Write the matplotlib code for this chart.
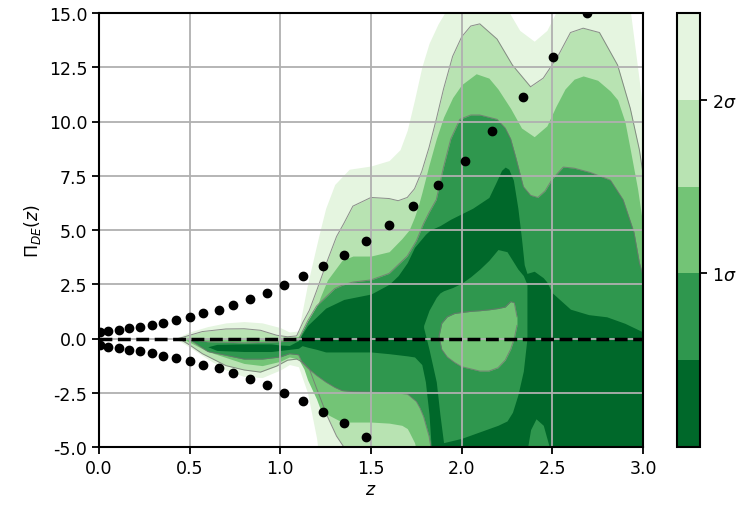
import numpy as np
import matplotlib
matplotlib.use("Agg")
import matplotlib.pyplot as plt
from matplotlib.colors import ListedColormap, BoundaryNorm
from matplotlib.cm import ScalarMappable
from matplotlib.ticker import FormatStrFormatter

# ---- sigma levels and their fill colours (darkest = innermost) ----
sigma_levels = [0.0, 0.5, 1.0, 1.5, 2.0, 2.5]
level_colors = ["#00682a", "#2f974e", "#73c476", "#b8e3b2", "#e5f5e0"]

# ---- Reconstructed reference points ----
z_upper_pts = [0.005, 0.05, 0.11, 0.165, 0.225, 0.29, 0.355, 0.425, 0.50, 0.575,
               0.66, 0.74, 0.83, 0.925, 1.02, 1.125, 1.235, 1.35, 1.47, 1.60,
               1.73, 1.87, 2.02, 2.17, 2.34, 2.505, 2.69]
y_upper_pts = [0.30, 0.35, 0.40, 0.48, 0.53, 0.62, 0.71, 0.85, 0.98, 1.17,
               1.33, 1.56, 1.82, 2.10, 2.46, 2.87, 3.33, 3.85, 4.50, 5.23,
               6.10, 7.08, 8.20, 9.57, 11.15, 12.97, 15.0]
z_lower_pts = [0.005, 0.05, 0.11, 0.165, 0.225, 0.29, 0.355, 0.425, 0.50, 0.575,
               0.66, 0.74, 0.83, 0.925, 1.02, 1.125, 1.235, 1.35, 1.47]
y_lower_pts = [-0.30, -0.38, -0.44, -0.52, -0.58, -0.67, -0.79, -0.90, -1.02, -1.20,
               -1.36, -1.60, -1.87, -2.14, -2.50, -2.90, -3.37, -3.90, -4.52]

# ---- contour band outlines: z knots, lower edge, upper edge ----
# region with sigma < 2.5
z_s25 = [0.42, 0.5, 0.6, 0.7, 0.8, 0.9, 1.0, 1.05, 1.1, 1.15, 1.2, 1.22, 1.25, 1.3,
         1.38, 1.5, 1.6, 1.66, 1.7, 1.74, 1.78, 1.82, 1.87, 1.92, 2.25, 2.32, 2.4,
         2.47, 2.53, 2.93, 2.97, 3.0]
lo_s25 = [0.0, -0.4, -0.95, -1.45, -1.75, -1.8, -1.45, -1.2, -1.3, -2.5, -4.6, -6, -6, -6,
          -6, -6, -6, -6, -6, -6, -6, -6, -6, -6, -6, -6, -6,
          -6, -6, -6, -6, -6]
hi_s25 = [0.0, 0.3, 0.55, 0.72, 0.78, 0.72, 0.5, 0.3, 0.35, 2.5, 4.3, 5.0, 6.0, 7.1,
          7.8, 7.95, 8.2, 8.7, 9.6, 11.0, 12.5, 13.6, 14.5, 15.2, 15.2, 14.2, 13.7,
          14.2, 15.2, 15.1, 12.5, 10.5]

# region with sigma < 2
z_s20 = [0.44, 0.5, 0.57, 0.7, 0.8, 0.89, 0.98, 1.04, 1.09, 1.125, 1.16, 1.2, 1.26,
         1.31, 1.35, 1.4, 1.5, 1.6, 1.65, 1.7, 1.74, 1.78, 1.82, 1.86, 1.9, 1.95,
         2.0, 2.05, 2.10, 2.195, 2.28, 2.38, 2.45, 2.53, 2.60, 2.67, 2.76, 2.86, 2.93,
         2.98, 3.0]
lo_s20 = [0.0, -0.3, -0.7, -1.25, -1.45, -1.55, -1.27, -1.0, -0.95, -1.1, -1.4, -2.3, -3.6,
          -4.5, -5.0, -6, -6, -6, -6, -6, -6, -6, -6, -6, -6, -6,
          -6, -6, -6, -6, -6, -6, -6, -6, -6, -6, -6, -6, -6,
          -6, -6]
hi_s20 = [0.0, 0.15, 0.32, 0.44, 0.45, 0.38, 0.15, 0.08, 0.12, 0.76, 1.3, 2.2, 3.6,
          4.7, 5.3, 6.1, 6.5, 6.45, 6.35, 6.5, 6.9, 7.7, 8.8, 10.1, 11.5, 13.0,
          13.9, 14.4, 14.5, 13.8, 12.6, 11.6, 12.0, 13.0, 14.1, 14.3, 14.1, 12.6, 10.6,
          8.7, 7.6]

# region with sigma < 1.5
z_s15 = [0.46, 0.6, 0.8, 0.9, 1.0, 1.05, 1.1, 1.13, 1.15, 1.2, 1.22, 1.26, 1.34, 1.4,
         1.5, 1.6, 1.67, 1.7, 1.71, 1.74, 1.76, 1.78, 1.82, 1.86, 1.9, 1.95, 2.0, 2.08,
         2.15, 2.2, 2.27, 2.33, 2.4, 2.47, 2.52, 2.57, 2.62, 2.67, 2.75, 2.82, 2.86,
         2.9, 2.93, 2.97, 3.0]
lo_s15 = [0.0, -0.6, -1.15, -1.25, -1.05, -0.85, -0.95, -1.4, -1.9, -2.8, -3.25, -3.5, -3.85, -3.85,
          -3.85, -3.9, -4.0, -4.15, -4.3, -4.8, -5.5, -6, -6, -6, -6, -6, -6, -6,
          -6, -6, -6, -6, -6, -6, -6, -6, -6, -6, -6, -6, -6,
          -6, -6, -6, -6]
hi_s15 = [0.0, 0.03, 0.05, 0.04, 0.0, 0.0, 0.1, 0.4, 0.7, 1.4, 1.9, 2.7, 3.6, 3.8,
          3.8, 4.0, 4.6, 4.9, 5.0, 5.6, 6.1, 6.7, 8.0, 9.2, 10.2, 11.1, 11.7, 12.2,
          12.0, 11.5, 10.6, 9.7, 9.3, 9.8, 10.7, 11.5, 11.95, 12.1, 11.9, 11.4, 11.0,
          10.0, 8.7, 6.9, 5.2]

# region with sigma < 1
z_s10 = [0.5, 0.6, 0.8, 0.9, 1.0, 1.05, 1.1, 1.12, 1.15, 1.2, 1.25, 1.3, 1.34, 1.4,
         1.5, 1.6, 1.7, 1.75, 1.77, 1.79, 1.82, 1.84, 1.86, 1.9, 1.94, 1.99, 2.05, 2.1,
         2.195, 2.24, 2.27, 2.3, 2.34, 2.38, 2.42, 2.46, 2.5, 2.56, 2.62, 2.71, 2.82,
         2.89, 2.95, 2.98, 3.0]
lo_s10 = [-0.05, -0.6, -0.95, -0.95, -0.85, -0.7, -0.75, -1.1, -1.35, -1.7, -2.0, -2.25, -2.4, -2.45,
          -2.47, -2.5, -2.55, -2.9, -3.2, -3.6, -4.5, -5.5, -6, -6, -6, -6, -6, -6,
          -6, -6, -6, -6, -6, -6, -6, -6, -6, -6, -6, -6, -6,
          -6, -6, -6, -6]
hi_s10 = [-0.05, -0.15, -0.2, -0.18, -0.15, -0.12, -0.08, 0.3, 0.8, 1.5, 1.9, 2.3, 2.45, 2.6,
          2.7, 3.0, 3.8, 4.5, 4.9, 5.3, 5.8, 6.1, 6.4, 7.9, 9.2, 10.1, 10.3, 10.3,
          10.1, 9.7, 9.2, 8.3, 7.0, 6.6, 6.5, 6.8, 7.35, 7.9, 7.85, 7.65, 7.3,
          6.4, 4.9, 3.5, 2.9]

# region with sigma < 0.5
z_s05 = [0.6, 0.65, 0.8, 0.95, 1.0, 1.05, 1.1, 1.12, 1.15, 1.2, 1.25, 1.35, 1.5, 1.6,
         1.65, 1.7, 1.74, 1.78, 1.8, 1.82, 1.84, 1.88, 1.94, 2.06, 2.15, 2.19, 2.22,
         2.24, 2.26, 2.285, 2.31, 2.33, 2.345, 2.36, 2.4, 2.45, 2.47, 2.5, 2.54, 2.6,
         2.7, 2.8, 2.9, 3.0]
lo_s05 = [-0.38, -0.55, -0.6, -0.6, -0.55, -0.5, -0.45, -0.33, -0.4, -0.5, -0.62, -0.62, -0.62, -0.7,
          -0.75, -0.8, -0.85, -1.2, -2.0, -3.5, -6, -6, -6, -6, -6, -6, -6,
          -6, -6, -6, -6, -6, -6, -6, -6, -6, -6, -6, -6, -6,
          -6, -6, -6, -6]
hi_s05 = [-0.38, -0.27, -0.25, -0.25, -0.3, -0.32, -0.1, 0.2, 0.6, 1.0, 1.4, 1.8, 2.05, 2.5,
          2.9, 3.5, 4.2, 4.6, 4.8, 4.95, 5.05, 5.2, 5.5, 6.0, 6.5, 7.2, 7.75,
          7.9, 7.8, 7.3, 6.0, 4.6, 3.4, 3.0, 3.1, 2.8, 2.6, 2.1, 1.8, 1.35,
          1.1, 1.0, 0.7, 0.3]

# sigma 0.5-1 pocket between the two modes
z_mid = [1.79, 1.82, 1.86, 1.88, 1.9, 1.95, 2.0, 2.05, 2.1, 2.15, 2.2, 2.25, 2.28, 2.31,
         2.34, 2.36]
lo_mid = [0.5, -0.5, -2.0, -3.5, -4.8, -4.7, -4.6, -4.45, -4.3, -4.15, -4.0, -3.8, -3.4, -2.6,
          -1.5, 0.0]
hi_mid = [0.6, 1.3, 1.9, 2.1, 2.2, 2.35, 2.55, 2.85, 3.2, 3.6, 4.1, 4.0, 3.6, 3.2,
          2.9, 2.5]

# sigma 1-1.5 island inside the pocket
z_island = [1.875, 1.89, 1.92, 1.96, 2.0, 2.05, 2.1, 2.15, 2.2, 2.24, 2.27, 2.29, 2.305]
lo_island = [0.1, -0.5, -0.85, -1.1, -1.3, -1.4, -1.5, -1.5, -1.35, -1.0, -0.5, 0.0, 0.6]
hi_island = [0.1, 0.7, 1.0, 1.15, 1.2, 1.25, 1.28, 1.32, 1.38, 1.45, 1.7, 1.65, 1.0]

# sigma 0.5-1 lobe at the bottom edge
z_lobe = [2.36, 2.38, 2.41, 2.45, 2.49]
lo_lobe = [-6, -6, -6, -6, -6]
hi_lobe = [-5.2, -4.2, -3.7, -4.0, -5.2]

fig = plt.figure(figsize=(7.4, 5.06), dpi=100)
ax = fig.add_axes([99 / 740, 58 / 506, 544 / 740, 434 / 506])
cax = fig.add_axes([677 / 740, 58 / 506, 23 / 740, 434 / 506])

edge_kw = dict(color="0.45", lw=0.7, alpha=0.8, zorder=1.2)

def band(z, lo, hi, color, outline=False):
    ax.fill_between(z, lo, hi, color=color, lw=0, zorder=1)
    if outline:
        ax.plot(z, lo, **edge_kw)
        ax.plot(z, hi, **edge_kw)

band(z_s25, lo_s25, hi_s25, level_colors[4])
band(z_s20, lo_s20, hi_s20, level_colors[3], outline=True)
band(z_s15, lo_s15, hi_s15, level_colors[2])
band(z_s10, lo_s10, hi_s10, level_colors[1], outline=True)
band(z_s05, lo_s05, hi_s05, level_colors[0])
band(z_mid, lo_mid, hi_mid, level_colors[1])
band(z_island, lo_island, hi_island, level_colors[2], outline=True)
band(z_lobe, lo_lobe, hi_lobe, level_colors[1])

ax.axhline(0.0, color="black", ls="--", lw=2.5, zorder=2)
ax.plot(z_upper_pts, y_upper_pts, "o", color="black", ms=6, zorder=3)
ax.plot(z_lower_pts, y_lower_pts, "o", color="black", ms=6, zorder=3)

ax.set_xlim(0, 3)
ax.set_ylim(-5, 15)
ax.set_xticks(np.arange(0, 3.01, 0.5))
ax.set_yticks(np.arange(-5, 15.01, 2.5))
ax.xaxis.set_major_formatter(FormatStrFormatter("%.1f"))
ax.yaxis.set_major_formatter(FormatStrFormatter("%.1f"))
ax.grid(True, color="#b0b0b0", lw=1.3)
ax.tick_params(labelsize=12.5, width=1.3, length=5)
for s in ax.spines.values():
    s.set_linewidth(1.5)
ax.set_xlabel("$z$", fontsize=12.5, labelpad=2)
ax.set_ylabel(r"$\Pi_{DE}(z)$", fontsize=12.5, labelpad=4)

cmap = ListedColormap(level_colors)
norm = BoundaryNorm(sigma_levels, cmap.N)
cb = fig.colorbar(ScalarMappable(norm=norm, cmap=cmap), cax=cax, ticks=[1, 2])
cb.ax.minorticks_off()
cb.ax.set_yticklabels([r"$1\sigma$", r"$2\sigma$"])
cb.ax.tick_params(labelsize=12.5, width=1.3, length=5)
cb.outline.set_linewidth(1.5)

fig.savefig("out.png", dpi=100)
